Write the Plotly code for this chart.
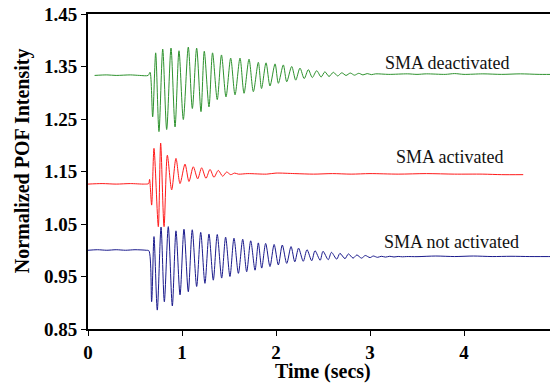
import plotly.graph_objects as go

# ---- data (extrema and plateau points) ----
green_t = [0.07, 0.2, 0.3, 0.45, 0.55, 0.64, 0.66,
           0.688, 0.72, 0.755, 0.795, 0.837, 0.883, 0.926, 0.968, 1.014, 1.067,
           1.11, 1.156, 1.202, 1.237, 1.287, 1.325, 1.375, 1.42, 1.468, 1.518,
           1.564, 1.617, 1.66, 1.713, 1.759, 1.812, 1.846, 1.894, 1.936, 1.99,
           2.025, 2.078, 2.114, 2.167, 2.21, 2.255, 2.30, 2.344, 2.386, 2.433,
           2.48, 2.52, 2.564, 2.61, 2.656, 2.70, 2.745, 2.79, 2.835, 2.88,
           2.925, 2.97, 3.015, 3.06, 3.2, 3.4, 3.5, 3.6, 3.8, 3.9, 4.0, 4.2,
           4.4, 4.6, 4.8, 5.0]
green_v = [1.333, 1.334, 1.333, 1.334, 1.333, 1.333, 1.339,
           1.254, 1.376, 1.226, 1.383, 1.230, 1.385, 1.235, 1.380, 1.249, 1.387,
           1.270, 1.385, 1.264, 1.379, 1.273, 1.376, 1.287, 1.372, 1.292, 1.366,
           1.296, 1.366, 1.299, 1.364, 1.302, 1.358, 1.308, 1.357, 1.313, 1.355,
           1.318, 1.353, 1.321, 1.350, 1.324, 1.347, 1.327, 1.344, 1.329, 1.342,
           1.330, 1.340, 1.331, 1.339, 1.332, 1.338, 1.333, 1.3375, 1.3335, 1.337,
           1.334, 1.3365, 1.3345, 1.336, 1.335, 1.336, 1.335, 1.336, 1.335, 1.3365, 1.335, 1.336,
           1.335, 1.336, 1.335, 1.335]

red_t = [0.0, 0.15, 0.3, 0.45, 0.6, 0.645, 0.655,
         0.677, 0.702, 0.748, 0.773, 0.809, 0.844, 0.89, 0.936, 0.979, 1.032,
         1.074, 1.12, 1.167, 1.209, 1.255, 1.298, 1.34, 1.386, 1.433, 1.475,
         1.518, 1.56, 1.6, 1.7, 1.9, 2.0, 2.2, 2.4, 2.6, 2.8, 3.0, 3.3, 3.6,
         3.9, 4.2, 4.4, 4.63]
red_v = [1.126, 1.127, 1.126, 1.127, 1.126, 1.127, 1.135,
         1.086, 1.194, 1.045, 1.204, 1.045, 1.181, 1.115, 1.175, 1.127, 1.164,
         1.131, 1.159, 1.136, 1.157, 1.137, 1.154, 1.139, 1.152, 1.141, 1.149,
         1.144, 1.147, 1.145, 1.146, 1.145, 1.147, 1.146, 1.145, 1.146, 1.145,
         1.146, 1.145, 1.146, 1.145, 1.145, 1.144, 1.144]

blue_t = [0.0, 0.1, 0.2, 0.3, 0.4, 0.5, 0.62, 0.648,
          0.677, 0.702, 0.737, 0.777, 0.812, 0.854, 0.897, 0.936, 0.979, 1.021,
          1.067, 1.109, 1.156, 1.199, 1.244, 1.287, 1.333, 1.375, 1.422, 1.464,
          1.51, 1.553, 1.6, 1.646, 1.688, 1.731, 1.777, 1.812, 1.848, 1.89,
          1.936, 1.98, 2.025, 2.067, 2.114, 2.16, 2.20, 2.24, 2.29, 2.33, 2.38,
          2.415, 2.47, 2.50, 2.556, 2.59, 2.646, 2.68, 2.734, 2.77, 2.82, 2.86,
          2.91, 2.95, 3.0, 3.035, 3.08, 3.12, 3.165, 3.21, 3.255, 3.30, 3.345,
          3.39, 3.5, 3.7, 3.9, 4.1, 4.3, 4.5, 4.7, 5.0]
blue_v = [1.000, 1.001, 1.000, 1.001, 1.000, 1.001, 1.000, 0.999,
          0.902, 1.026, 0.886, 1.044, 0.902, 1.045, 0.894, 1.037, 0.915, 1.040,
          0.921, 1.039, 0.931, 1.034, 0.937, 1.031, 0.943, 1.030, 0.947, 1.025,
          0.950, 1.023, 0.956, 1.021, 0.959, 1.018, 0.962, 1.014, 0.966, 1.013,
          0.969, 1.011, 0.972, 1.010, 0.975, 1.007, 0.978, 1.004, 0.979, 1.001, 0.980,
          0.999, 0.981, 0.998, 0.982, 0.996, 0.983, 0.994, 0.984, 0.993, 0.985, 0.991,
          0.985, 0.990, 0.986, 0.989, 0.9865, 0.9885, 0.987, 0.9885, 0.9872, 0.9882, 0.9875,
          0.988, 0.9878, 0.989, 0.988, 0.989, 0.988, 0.9885, 0.988, 0.988]

labels = ["SMA deactivated", "SMA activated", "SMA not activated"]
label_x = [3.82, 3.85, 3.87]
label_y = [1.357, 1.178, 1.016]

y_ticks = [0.85, 0.95, 1.05, 1.15, 1.25, 1.35, 1.45]
x_ticks = [0, 1, 2, 3, 4, 5]

fig = go.Figure()
for t, v, c in [(green_t, green_v, "#2e922e"), (red_t, red_v, "#ff1a1a"), (blue_t, blue_v, "#1a1a8c")]:
    fig.add_trace(go.Scatter(x=t, y=v, mode="lines",
                             line=dict(color=c, width=1, shape="spline", smoothing=0.8),
                             showlegend=False, hoverinfo="skip"))

for txt, lx, ly in zip(labels, label_x, label_y):
    fig.add_annotation(x=lx, y=ly, text=txt, showarrow=False, xanchor="center", yanchor="middle",
                       font=dict(family="Liberation Serif", size=18, color="#111111"))

tickfont = dict(family="Liberation Serif", size=19, color="black")
titlefont = dict(family="Liberation Serif", size=20, color="black")

# axis titles
fig.add_annotation(xref="paper", yref="paper", x=0.5, y=-0.1365, yanchor="middle",
                   text="<b>Time (secs)</b>", showarrow=False, font=titlefont)
fig.add_annotation(xref="paper", yref="paper", x=-0.140, y=0.533, xanchor="center", yanchor="middle",
                   text="<b>Normalized POF Intensity</b>", textangle=-90, showarrow=False, font=titlefont)

# thin right border
fig.add_shape(type="line", xref="paper", yref="paper", x0=0.998, x1=0.998, y0=0, y1=1,
              line=dict(color="#999999", width=1))

fig.update_layout(
    width=550, height=377,
    margin=dict(l=80, r=0, t=6, b=56),
    paper_bgcolor="white", plot_bgcolor="white",
    xaxis=dict(range=[0, 5], tickvals=x_ticks, ticktext=[f"<b>{v}</b>" for v in x_ticks],
               showgrid=False, zeroline=False, showline=True, linecolor="black", linewidth=2,
               mirror=True, ticks="outside", ticklen=5, tickcolor="black", tickfont=tickfont,
               automargin=False, ticklabeloverflow="allow"),
    yaxis=dict(range=[0.85, 1.45], tickvals=y_ticks, ticktext=[f"<b>{v:.2f}</b>" for v in y_ticks],
               showgrid=False, zeroline=False, showline=True, linecolor="black", linewidth=2,
               ticks="outside", ticklen=5, tickcolor="black", tickfont=tickfont,
               automargin=False, ticklabeloverflow="allow"),
)
fig.write_html("out.html")
